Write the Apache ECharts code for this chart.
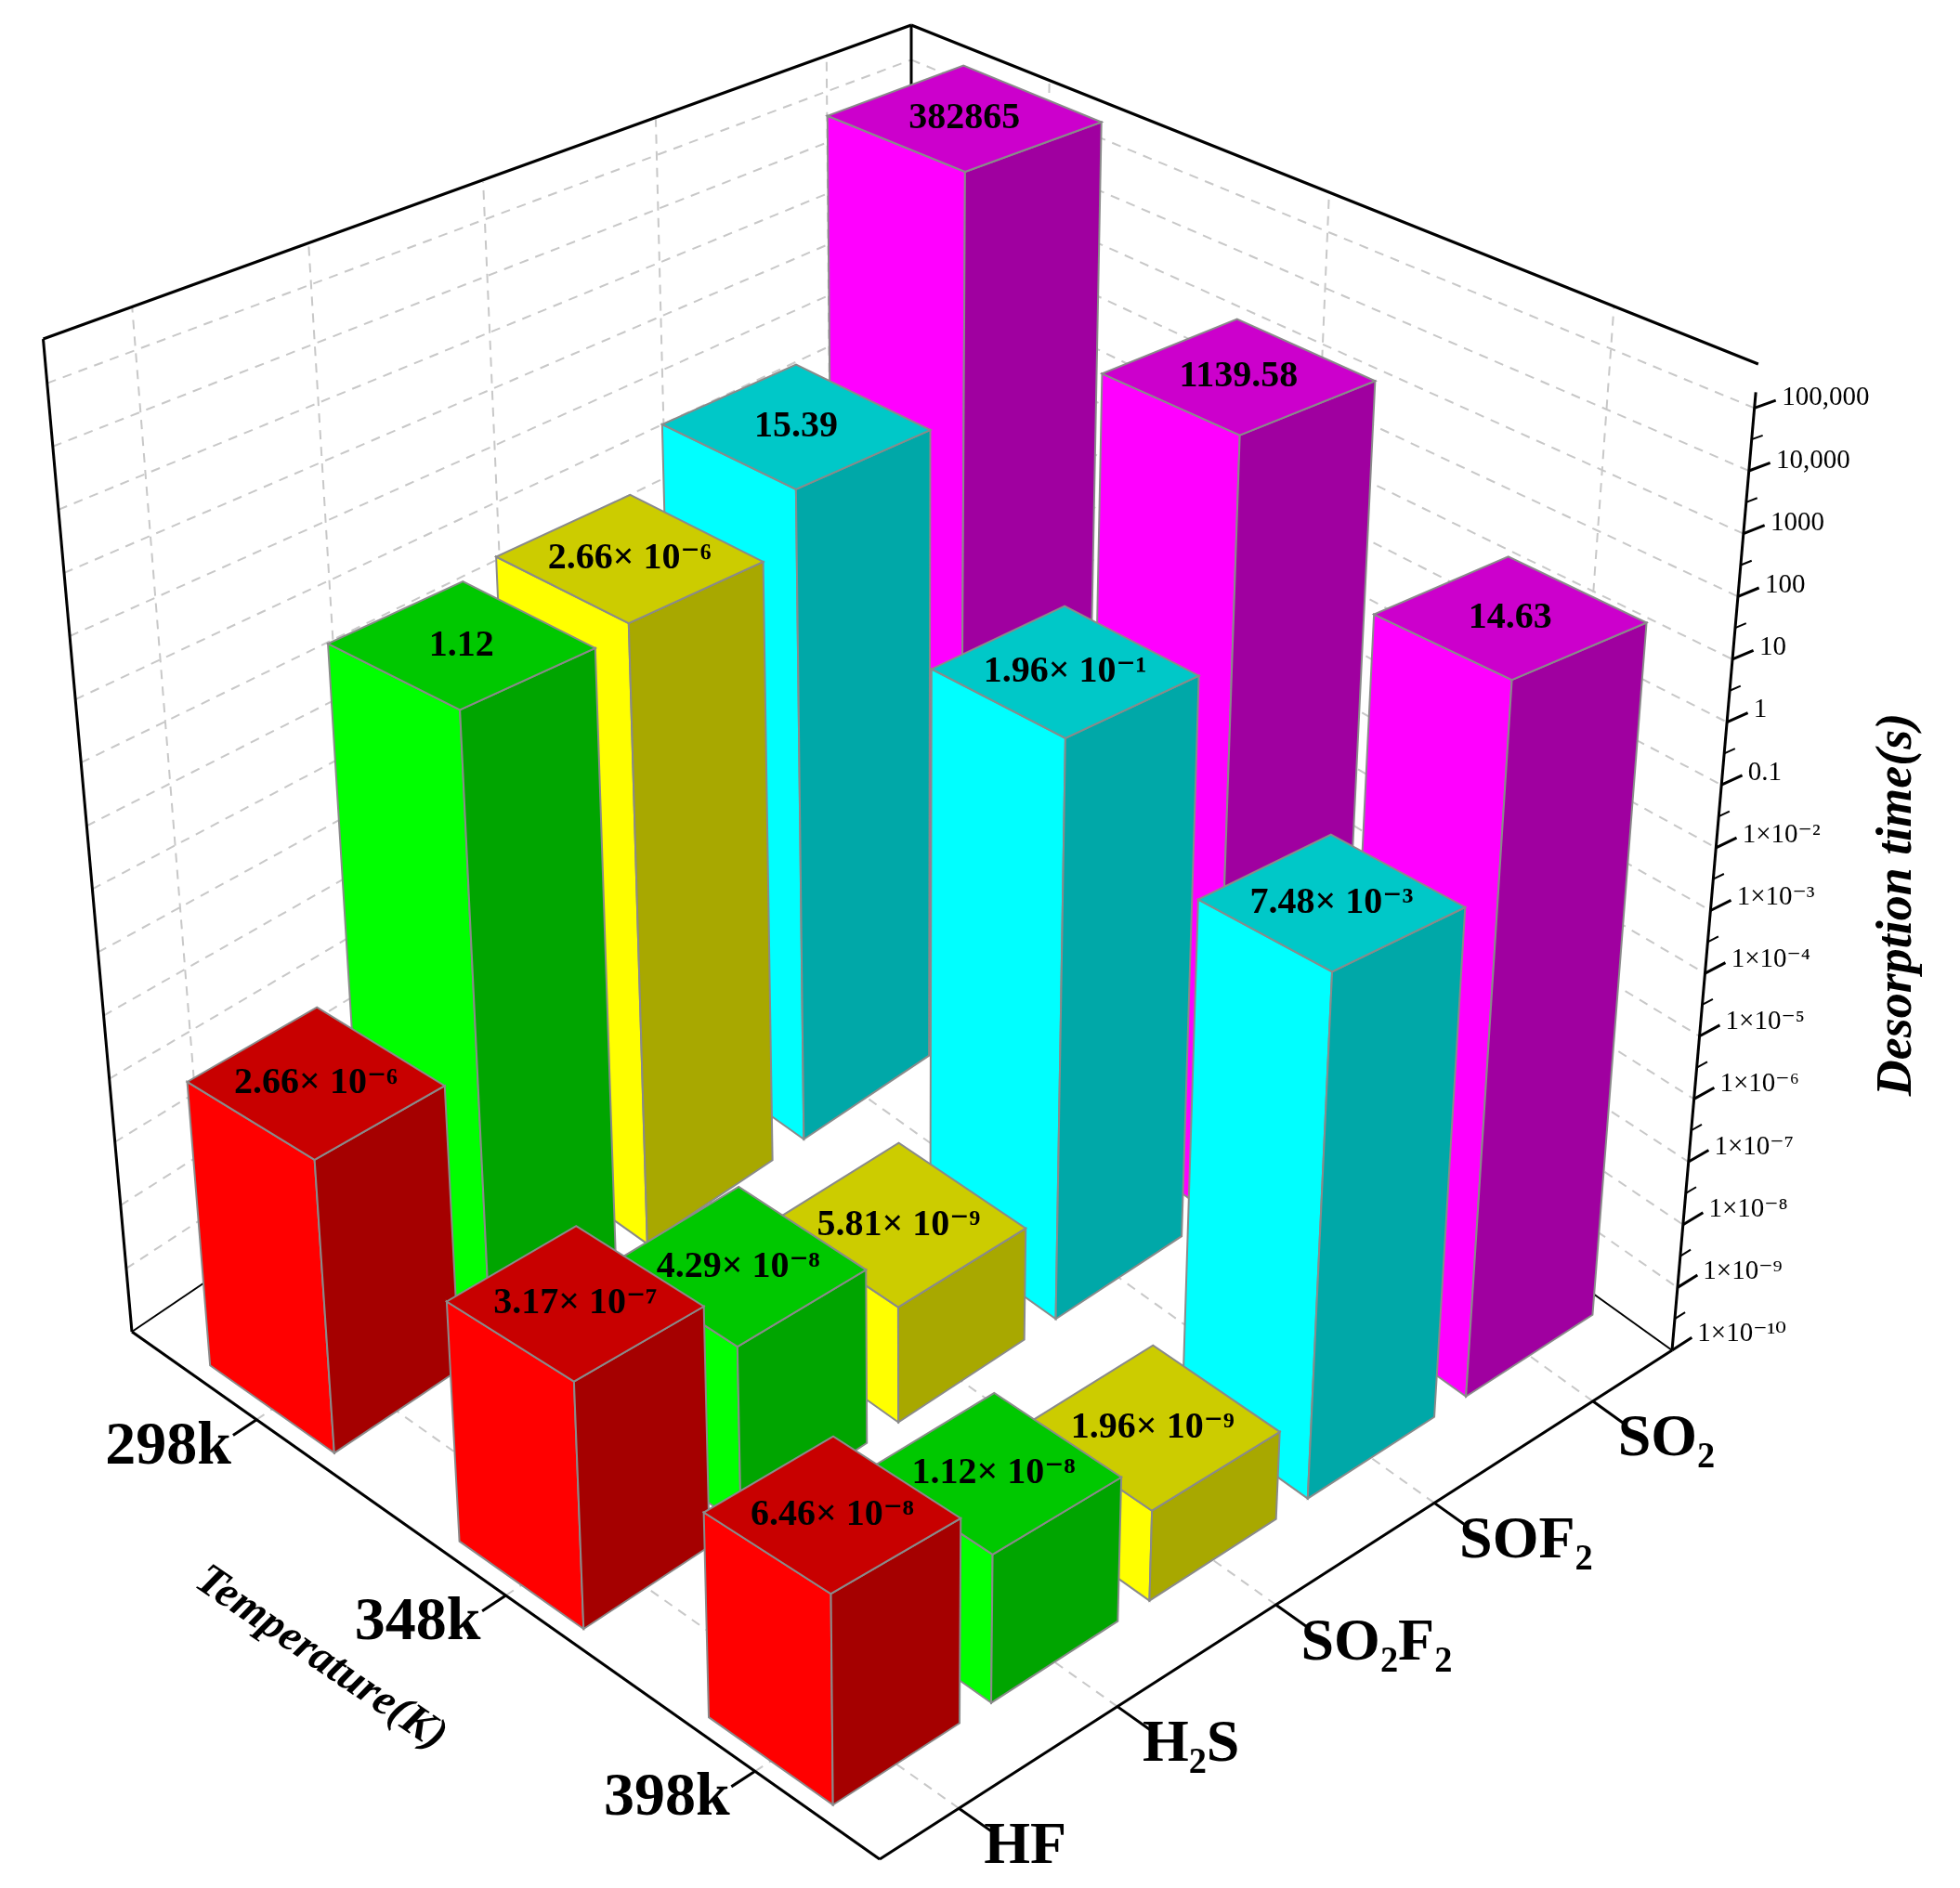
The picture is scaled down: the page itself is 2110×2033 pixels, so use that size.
<!DOCTYPE html>
<html><head><meta charset="utf-8">
<script src="https://cdn.jsdelivr.net/npm/echarts@6/dist/echarts.min.js"></script>
<style>html,body{margin:0;padding:0;background:#fff}#c{width:2110px;height:2033px}</style>
</head><body><div id="c"></div>
<script>
// ---- data ----
const gases = ['HF', 'H₂S', 'SO₂F₂', 'SOF₂', 'SO₂'];
const temps = ['298k', '348k', '398k'];
// desorption time (s) per gas, in order 298k, 348k, 398k
const hfValues    = [2.66e-6, 3.17e-7, 6.46e-8];
const h2sValues   = [1.12, 4.29e-8, 1.12e-8];
const so2f2Values = [1.6, 5.81e-9, 1.96e-9];   // 298k bar drawn as in picture
const sof2Values  = [15.39, 0.196, 7.48e-3];
const so2Values   = [382865, 1139.58, 14.63];
const hfLabels    = ['2.66× 10⁻⁶', '3.17× 10⁻⁷', '6.46× 10⁻⁸'];
const h2sLabels   = ['1.12', '4.29× 10⁻⁸', '1.12× 10⁻⁸'];
const so2f2Labels = ['2.66× 10⁻⁶', '5.81× 10⁻⁹', '1.96× 10⁻⁹'];
const sof2Labels  = ['15.39', '1.96× 10⁻¹', '7.48× 10⁻³'];
const so2Labels   = ['382865', '1139.58', '14.63'];
const yTickLabels = ['1×10⁻¹⁰','1×10⁻⁹','1×10⁻⁸','1×10⁻⁷','1×10⁻⁶','1×10⁻⁵','1×10⁻⁴','1×10⁻³','1×10⁻²','0.1','1','10','100','1000','10,000','100,000'];

const allValues = [hfValues, h2sValues, so2f2Values, sof2Values, so2Values];
const allLabels = [hfLabels, h2sLabels, so2f2Labels, sof2Labels, so2Labels];
const colors = [
  ['#ff0000','#a50000','#c80000'],
  ['#00ff00','#00a500','#00c800'],
  ['#ffff00','#a8a800','#cccc00'],
  ['#00ffff','#00a8a8','#00c8c8'],
  ['#ff00ff','#a000a0','#cc00cc']
];

// ---- projection (layout) ----
const F=[947,2002], L=[142,1434], R=[1800,1454], B=[981,866], V=[981,10824];
const HF_=1293, HL=1069, HR=1062, HB=839, ZMAX=15.7, LOGMIN=-10;
function proj(api,g,t,z){
  const px = F[0]+g*(R[0]-F[0])+t*(L[0]-F[0])+g*t*(B[0]-L[0]-R[0]+F[0]);
  const py = F[1]+g*(R[1]-F[1])+t*(L[1]-F[1])+g*t*(B[1]-L[1]-R[1]+F[1]);
  const H = HF_*(1-g)*(1-t)+HR*g*(1-t)+HL*(1-g)*t+HB*g*t;
  const hz = H*z/ZMAX;
  const x = px + (px-V[0])/(V[1]-py)*hz;
  const y = py - hz;
  return api.coord([x,y]);
}
const gc = gi => (gi+0.5)/gases.length;
const tc = ti => (temps.length-ti-0.5)/temps.length;

// bar data, sorted far-to-near
const barData=[];
allValues.forEach((arr,gi)=>arr.forEach((v,ti)=>barData.push([gi,ti,v])));
barData.sort((a,b)=>(gc(b[0])+tc(b[1]))-(gc(a[0])+tc(a[1])));

const serif='"Liberation Serif","DejaVu Serif",serif';

function renderFrame(params, api){
  const ch=[];
  const line=(p,q,st)=>ch.push({type:'line',shape:{x1:p[0],y1:p[1],x2:q[0],y2:q[1]},style:st});
  const grid={stroke:'#c8c8c8',lineWidth:2,lineDash:[10,8]};
  const solid={stroke:'#000',lineWidth:3};
  // wall gridlines per decade
  for(let k=1;k<=15;k++){
    line(proj(api,0,1,k),proj(api,1,1,k),grid);
    line(proj(api,1,1,k),proj(api,1,0,k),grid);
  }
  // category lines on walls and floor
  gases.forEach((_,gi)=>{
    line(proj(api,gc(gi),1,0),proj(api,gc(gi),1,ZMAX),grid);
    line(proj(api,gc(gi),0,0),proj(api,gc(gi),1,0),grid);
  });
  temps.forEach((_,ti)=>{
    line(proj(api,1,tc(ti),0),proj(api,1,tc(ti),ZMAX),grid);
    line(proj(api,0,tc(ti),0),proj(api,1,tc(ti),0),grid);
  });
  // frame
  line(proj(api,0,0,0),proj(api,1,0,0),solid);
  line(proj(api,0,0,0),proj(api,0,1,0),solid);
  line(proj(api,0,1,0),proj(api,1,1,0),{stroke:'#000',lineWidth:2});
  line(proj(api,1,1,0),proj(api,1,0,0),{stroke:'#000',lineWidth:2});
  line(proj(api,0,1,0),proj(api,0,1,ZMAX),solid);
  line(proj(api,1,1,0),proj(api,1,1,ZMAX),solid);
  line(proj(api,0,1,ZMAX),proj(api,1,1,ZMAX),solid);
  line(proj(api,1,1,ZMAX),proj(api,1,0,ZMAX),solid);
  line(proj(api,1,0,0),proj(api,1,0,15.25),solid);
  // vertical axis ticks + labels
  yTickLabels.forEach((lab,k)=>{
    line(proj(api,1,0,k),proj(api,1.025,0,k),solid);
    if(k<15) line(proj(api,1,0,k+0.5),proj(api,1.013,0,k+0.5),{stroke:'#000',lineWidth:2});
    const p=proj(api,1.032,0,k);
    ch.push({type:'text',x:p[0],y:p[1],style:{text:lab,fill:'#000',fontSize:29,fontFamily:serif,align:'left',verticalAlign:'middle'}});
  });
  const np=api.coord([2043,974]);
  ch.push({type:'text',x:np[0],y:np[1],rotation:Math.PI/2,style:{text:'Desorption time(s)',fill:'#000',fontSize:54,fontWeight:'bold',fontStyle:'italic',fontFamily:serif,align:'center',verticalAlign:'middle'}});
  // gas axis
  gases.forEach((g,gi)=>{
    line(proj(api,gc(gi),0,0),proj(api,gc(gi),-0.045,0),solid);
    const p=proj(api,gc(gi),0,0);
    ch.push({type:'text',x:p[0]+27,y:p[1]+42,style:{text:g,fill:'#000',fontSize:64,fontWeight:'bold',fontFamily:serif,align:'left',verticalAlign:'middle'}});
  });
  // temperature axis
  temps.forEach((tl,ti)=>{
    line(proj(api,0,tc(ti),0),proj(api,-0.03,tc(ti),0),solid);
    const p=proj(api,0,tc(ti),0);
    ch.push({type:'text',x:p[0]-95,y:p[1]+30,style:{text:tl,fill:'#000',fontSize:66,fontWeight:'bold',fontFamily:serif,align:'center',verticalAlign:'middle'}});
  });
  const tp=api.coord([345,1786]);
  ch.push({type:'text',x:tp[0],y:tp[1],rotation:-0.6,style:{text:'Temperature(K)',fill:'#000',fontSize:48,fontWeight:'bold',fontStyle:'italic',fontFamily:serif,align:'center',verticalAlign:'middle'}});
  return {type:'group',children:ch};
}

function renderBar(params, api){
  const gi=api.value(0), ti=api.value(1), v=api.value(2);
  const z=Math.log10(v)-LOGMIN;
  const g=gc(gi), t=tc(ti), gh=0.08, th=0.083;
  const g0=g-gh,g1=g+gh,t0=t-th,t1=t+th;
  const c=colors[gi];
  const edge={stroke:'#8a8a8a',lineWidth:2};
  const poly=(pts,fill)=>({type:'polygon',shape:{points:pts.map(q=>proj(api,q[0],q[1],q[2]))},style:Object.assign({fill},edge)});
  const lab=allLabels[gi][ti];
  const lp=proj(api,g,t,z);
  return {type:'group',children:[
    poly([[g0,t0,0],[g0,t1,0],[g0,t1,z],[g0,t0,z]],c[0]),
    poly([[g0,t0,0],[g1,t0,0],[g1,t0,z],[g0,t0,z]],c[1]),
    poly([[g0,t0,z],[g1,t0,z],[g1,t1,z],[g0,t1,z]],c[2]),
    {type:'text',x:lp[0],y:lp[1],style:{text:lab,fill:'#000',fontSize:40,fontWeight:'bold',fontFamily:serif,align:'center',verticalAlign:'middle'}}
  ]};
}

const chart=echarts.init(document.getElementById('c'));
chart.setOption({
  animation:false,
  backgroundColor:'#fff',
  grid:{left:0,right:0,top:0,bottom:0},
  xAxis:{type:'value',min:0,max:2110,show:false},
  yAxis:{type:'value',min:0,max:2033,inverse:true,show:false},
  series:[
    {type:'custom',renderItem:renderFrame,data:[[0,0]],silent:true,z:1},
    {type:'custom',renderItem:renderBar,data:barData,silent:true,z:2}
  ]
});
</script></body></html>
